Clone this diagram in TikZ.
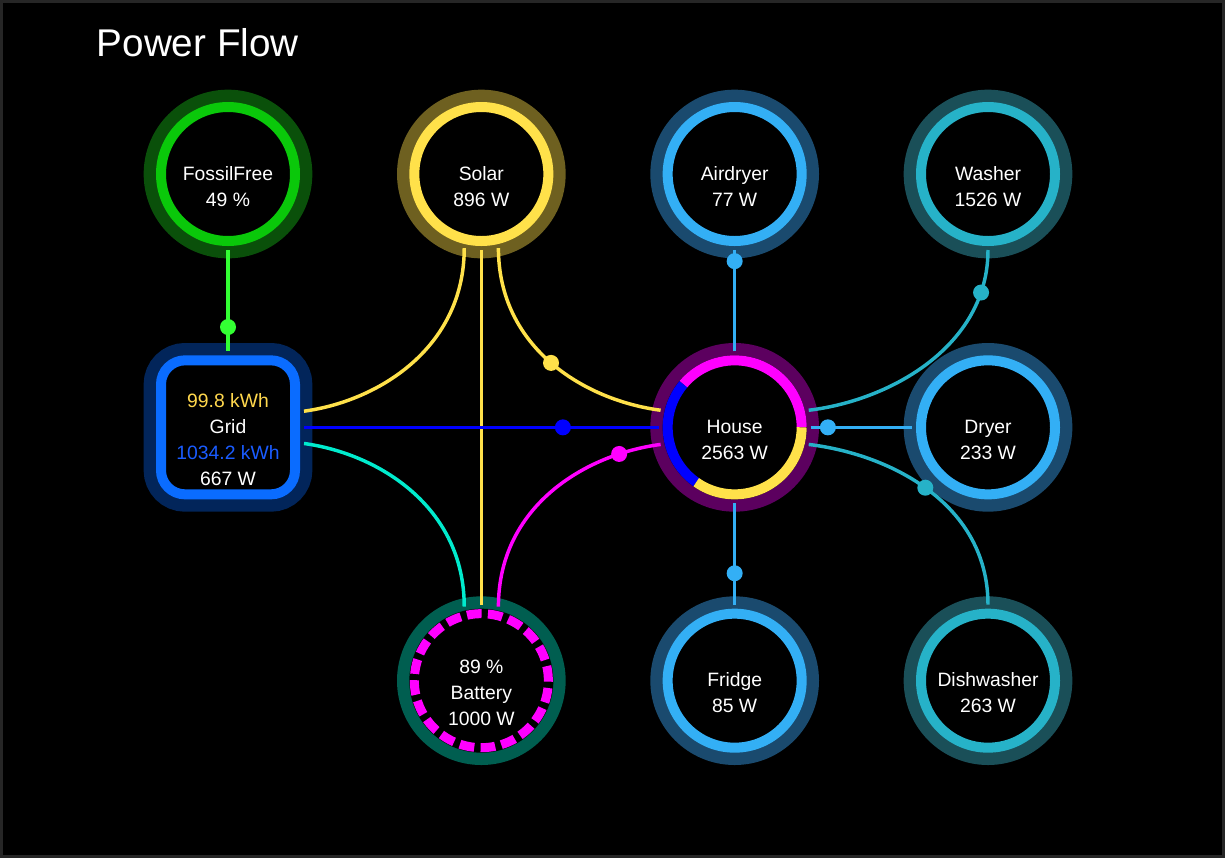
\documentclass[tikz,border=0pt]{standalone}
\usepackage{fontspec}
\setmainfont{Liberation Sans}
\usetikzlibrary{positioning}

\definecolor{framegray}{HTML}{262626}
\definecolor{fossilring}{HTML}{0AC80A}
\definecolor{fossilhalo}{HTML}{0A500A}
\definecolor{fossilflow}{HTML}{33FF33}
\definecolor{solarring}{HTML}{FFE14A}
\definecolor{solarhalo}{HTML}{6E6020}
\definecolor{gridring}{HTML}{0A6CFF}
\definecolor{gridhalo}{HTML}{02255A}
\definecolor{gridflow}{HTML}{0000FF}
\definecolor{gridin}{HTML}{FFD84D}
\definecolor{gridout}{HTML}{1A5CFF}
\definecolor{househalo}{HTML}{5C005F}
\definecolor{battring}{HTML}{FF00FF}
\definecolor{batthalo}{HTML}{005E50}
\definecolor{chargeflow}{HTML}{00EBCD}
\definecolor{loadring}{HTML}{33AFF5}
\definecolor{loadhalo}{HTML}{1A4A6E}
\definecolor{washring}{HTML}{26B2C8}
\definecolor{washhalo}{HTML}{1A4F58}

\newcommand{\nodefont}{\fontsize{14.5pt}{19.5pt}\selectfont}
\newcommand{\lift}{\rule{0pt}{29pt}}

\begin{document}
\begin{tikzpicture}[
    x=0.75pt, y=0.75pt,
    node distance=190pt, on grid,
    ring/.style 2 args={circle,minimum size=100.5pt,inner sep=0pt,outer sep=6.75pt,
        fill=black,draw=#1,line width=7.5pt,preaction={draw=#2,line width=26pt},
        text=white,align=center,font=\nodefont},
    gridbox/.style={ring={gridring}{gridhalo},rectangle,rounded corners=18pt},
    flow/.style={draw=#1,line width=2.6pt},
    flowdot/.style={circle,fill=#1,minimum size=12pt,inner sep=0pt}
]
\useasboundingbox (0,0) rectangle (1225,-858);
\fill[framegray] (0,0) rectangle (1225,-858);
\fill[black] (3,-3) rectangle (1222,-855);

\node[anchor=base west,text=white,font=\fontsize{29pt}{34pt}\selectfont] (title) at (92,-56) {Power Flow};

% top row
\node[ring={fossilring}{fossilhalo}] (fossil) at (228,-174) {\lift FossilFree\\49 \%};
\node[ring={solarring}{solarhalo},right=of fossil] (solar) {\lift Solar\\896 W};
\node[ring={loadring}{loadhalo},right=of solar] (airdryer) {\lift Airdryer\\77 W};
\node[ring={washring}{washhalo},right=of airdryer] (washer) {\lift Washer\\1526 W};
% middle row
\node[gridbox,below=of fossil] (grid) {\lift{\color{gridin}99.8 kWh}\\Grid\\{\color{gridout}1034.2 kWh}\\667 W};
\node[ring={black}{househalo},below=of airdryer] (house) {\lift House\\2563 W};
\node[ring={loadring}{loadhalo},below=of washer] (dryer) {\lift Dryer\\233 W};
% bottom row
\node[ring={black}{batthalo},below=380pt of solar,
    postaction={draw=battring,line width=6.75pt,dash pattern=on 11pt off 4.75pt}] (battery) {\lift 89 \%\\Battery\\1000 W};
\node[ring={loadring}{loadhalo},below=of house] (fridge) {\lift Fridge\\85 W};
\node[ring={washring}{washhalo},below=of dryer] (dishwasher) {\lift Dishwasher\\263 W};

% house ring split by source
\draw[line width=7.5pt,battring] ([shift={(0:50.25pt)}]house.center) arc[start angle=0,end angle=140,radius=50.25pt];
\draw[line width=7.5pt,gridflow] ([shift={(140:50.25pt)}]house.center) arc[start angle=140,end angle=235,radius=50.25pt];
\draw[line width=7.5pt,solarring] ([shift={(235:50.25pt)}]house.center) arc[start angle=235,end angle=360,radius=50.25pt];

% flows
\draw[flow=fossilflow] (fossil.south) -- (grid.north) node[flowdot=fossilflow,pos=0.76] (fdot) {};
\draw[flow=solarring] (solar.257) .. controls +(0,-100) and +(74,10) .. (grid.12);
\draw[flow=solarring] (solar.south) -- (battery.north);
\draw[flow=solarring] (solar.283) .. controls +(0,-100) and +(-76,10) .. (house.167) node[flowdot=solarring,pos=0.5] (sdot) {};
\draw[flow=gridflow] (grid.east) -- (house.west) node[flowdot=gridflow,pos=0.73] (gdot) {};
\draw[flow=chargeflow] (grid.-12) .. controls +(74,-10) and +(0,100) .. (battery.103);
\draw[flow=battring] (battery.77) .. controls +(0,100) and +(-76,-10) .. (house.193) node[flowdot=battring,pos=0.82] (bdot) {};
\draw[flow=loadring] (house.north) -- (airdryer.south) node[flowdot=loadring,pos=0.89] (adot) {};
\draw[flow=loadring] (house.south) -- (fridge.north) node[flowdot=loadring,pos=0.69] (frdot) {};
\draw[flow=loadring] (house.east) -- (dryer.west) node[flowdot=loadring,pos=0.17] (drdot) {};
\draw[flow=washring] (house.13) .. controls +(83,10) and +(0,-95) .. (washer.south) node[flowdot=washring,pos=0.84] (wdot) {};
\draw[flow=washring] (house.-13) .. controls +(83,-10) and +(0,100) .. (dishwasher.north) node[flowdot=washring,pos=0.48] (ddot) {};
\end{tikzpicture}
\end{document}
